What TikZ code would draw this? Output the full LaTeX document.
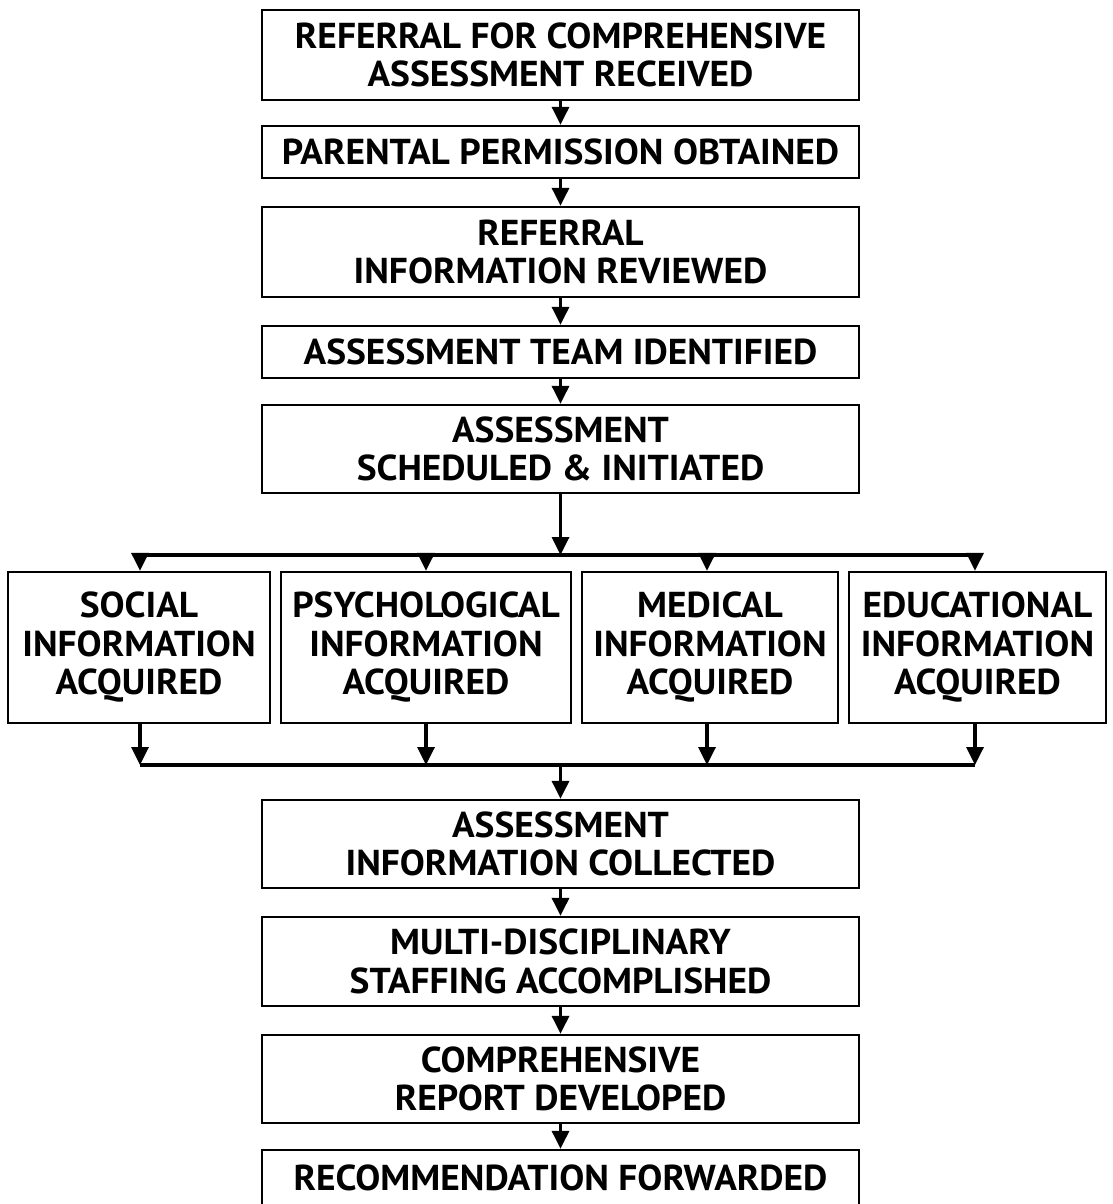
\documentclass[tikz,border=0pt]{standalone}
\usepackage{fontspec}
\newfontfamily\boxfont{PT Sans}[FakeStretch=1.04]
\usetikzlibrary{arrows.meta}
\begin{document}
\begin{tikzpicture}[x=1pt,y=-1pt,
  box/.style={draw,line width=2.4pt,rectangle,inner sep=0pt,align=center,
    font=\boxfont\bfseries\fontsize{36}{38.5}\selectfont},
  flow/.style={line width=3.4pt,-{Triangle[width=17pt,length=18pt]}},
  busline/.style={line width=3.4pt}]
\useasboundingbox (0,0) rectangle (1112,1204);
\clip (0,0) rectangle (1112,1204);
% main column
\node[box,minimum width=597pt,minimum height=90pt] (b1) at (560.5,55) {REFERRAL FOR COMPREHENSIVE\\ASSESSMENT RECEIVED};
\node[box,minimum width=597pt,minimum height=52pt] (b2) at (560.5,152) {PARENTAL PERMISSION OBTAINED};
\node[box,minimum width=597pt,minimum height=90pt] (b3) at (560.5,252) {REFERRAL\\INFORMATION REVIEWED};
\node[box,minimum width=597pt,minimum height=52pt] (b4) at (560.5,352) {ASSESSMENT TEAM IDENTIFIED};
\node[box,minimum width=597pt,minimum height=88pt] (b5) at (560.5,449) {ASSESSMENT\\SCHEDULED \& INITIATED};
% four branches
\node[box,minimum width=262pt,minimum height=151pt] (sa) at (139,647.5) {SOCIAL\\INFORMATION\\ACQUIRED};
\node[box,minimum width=290pt,minimum height=151pt] (sb) at (426,647.5) {PSYCHOLOGICAL\\INFORMATION\\ACQUIRED};
\node[box,minimum width=256pt,minimum height=151pt] (sc) at (710,647.5) {MEDICAL\\INFORMATION\\ACQUIRED};
\node[box,minimum width=257pt,minimum height=151pt] (sd) at (977.5,647.5) {EDUCATIONAL\\INFORMATION\\ACQUIRED};
% lower column
\node[box,minimum width=597pt,minimum height=88pt] (b6) at (560.5,844) {ASSESSMENT\\INFORMATION COLLECTED};
\node[box,minimum width=597pt,minimum height=89pt] (b7) at (560.5,961.5) {MULTI-DISCIPLINARY\\STAFFING ACCOMPLISHED};
\node[box,minimum width=597pt,minimum height=88pt] (b8) at (560.5,1079) {COMPREHENSIVE\\REPORT DEVELOPED};
\node[box,minimum width=597pt,minimum height=56pt] (b9) at (560.5,1178) {RECOMMENDATION FORWARDED};
% buses
\coordinate (t1) at (140,555);
\coordinate (t2) at (426,555);
\coordinate (t3) at (707,555);
\coordinate (t4) at (975,555);
\coordinate (tm) at (560.5,555);
\coordinate (u1) at (140,765);
\coordinate (u2) at (426,765);
\coordinate (u3) at (707,765);
\coordinate (u4) at (975,765);
\coordinate (um) at (560.5,765);
\draw[busline] (t1) -- (t4);
\draw[busline] (u1) -- (u4);
% connectors
\draw[flow] (b1) -- (b2);
\draw[flow] (b2) -- (b3);
\draw[flow] (b3) -- (b4);
\draw[flow] (b4) -- (b5);
\draw[flow] (b5.south) -- (tm);
\draw[flow] (t1) -- (t1 |- sa.north);
\draw[flow] (t2) -- (t2 |- sb.north);
\draw[flow] (t3) -- (t3 |- sc.north);
\draw[flow] (t4) -- (t4 |- sd.north);
\draw[flow] (u1 |- sa.south) -- (u1);
\draw[flow] (u2 |- sb.south) -- (u2);
\draw[flow] (u3 |- sc.south) -- (u3);
\draw[flow] (u4 |- sd.south) -- (u4);
\draw[flow] (um) -- (b6.north);
\draw[flow] (b6) -- (b7);
\draw[flow] (b7) -- (b8);
\draw[flow] (b8) -- (b9);
\end{tikzpicture}
\end{document}
